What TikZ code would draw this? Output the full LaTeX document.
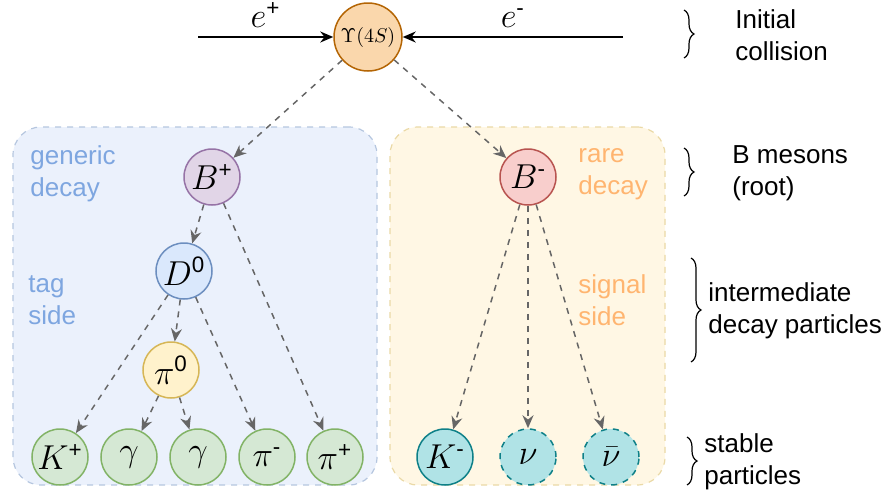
\documentclass[tikz,border=0pt]{standalone}
\usepackage{amsmath}
\usepackage{fontspec}
\setsansfont{Liberation Sans}
\usetikzlibrary{arrows.meta,decorations.pathreplacing}

\definecolor{upsfill}{HTML}{FAD7AC}
\definecolor{upsdraw}{HTML}{B46504}
\definecolor{bplusfill}{HTML}{E1D5E7}
\definecolor{bplusdraw}{HTML}{9673A6}
\definecolor{bminusfill}{HTML}{F8CECC}
\definecolor{bminusdraw}{HTML}{B85450}
\definecolor{dfill}{HTML}{DAE8FC}
\definecolor{ddraw}{HTML}{6C8EBF}
\definecolor{pifill}{HTML}{FFF2CC}
\definecolor{pidraw}{HTML}{D6B656}
\definecolor{greenfill}{HTML}{D5E8D4}
\definecolor{greendraw}{HTML}{82B366}
\definecolor{cyanfill}{HTML}{B0E3E6}
\definecolor{cyandraw}{HTML}{0E8088}
\definecolor{tagbg}{HTML}{EBF1FC}
\definecolor{tagline}{HTML}{B5C6DF}
\definecolor{sigbg}{HTML}{FFF7E4}
\definecolor{sigline}{HTML}{EAD9A6}
\definecolor{bluelabel}{HTML}{7EA6E0}
\definecolor{orangelabel}{HTML}{FFB570}
\definecolor{arrowgray}{HTML}{666666}

\newcommand{\ssup}[1]{^{\textsf{#1}}}

\begin{document}
\begin{tikzpicture}[x=0.5pt, y=-0.5pt,
    particle/.style={circle, draw, line width=0.75pt, minimum size=28pt, inner sep=0pt, font=\fontsize{16}{19}\selectfont},
    stable/.style={particle, fill=greenfill, draw=greendraw},
    invisible/.style={particle, fill=cyanfill, draw=cyandraw, dashed},
    decay/.style={-{Stealth[length=6.5pt, width=5.5pt]}, dashed, draw=arrowgray, line width=0.75pt},
    beam/.style={-{Stealth[length=6.5pt, width=5.5pt]}, line width=0.75pt},
    groupbox/.style={rectangle, rounded corners=14pt, dashed, line width=0.6pt},
    sidelabel/.style={align=left, anchor=west, inner sep=0pt, font=\sffamily\fontsize{13}{16}\selectfont},
    rowbrace/.style={decorate, decoration={brace, amplitude=5pt}, line width=0.6pt}
  ]
  \useasboundingbox (0,0) rectangle (885,493);

  % fonds des deux cotes
  \node[groupbox, fill=tagbg, draw=tagline, minimum width=182pt, minimum height=179pt] (tagbox) at (195,306) {};
  \node[groupbox, fill=sigbg, draw=sigline, minimum width=137.5pt, minimum height=179pt] (sigbox) at (527.5,306) {};

  \node[sidelabel, text=bluelabel] (generic) at (30,174) {generic\\decay};
  \node[sidelabel, text=bluelabel] (tagside) at (28,300) {tag\\side};
  \node[sidelabel, text=orangelabel] (rare) at (578,174) {rare\\decay};
  \node[sidelabel, text=orangelabel] (sigside) at (578,300) {signal\\side};

  % collision initiale
  \node[particle, fill=upsfill, draw=upsdraw, minimum size=34pt, font=\fontsize{10}{12}\selectfont] (ups) at (368,37) {$\Upsilon(4S)$};
  \coordinate (eplus) at (198,37);
  \coordinate (eminus) at (623,37);
  \draw[beam] (eplus) -- (ups) node[midway, above=1pt, font=\fontsize{16}{19}\selectfont] (eplabel) {$e\ssup{+}$};
  \draw[beam] (eminus) -- (ups) node[midway, above=1pt, font=\fontsize{16}{19}\selectfont] (emlabel) {$e\ssup{-}$};

  \node[particle, fill=bplusfill, draw=bplusdraw] (bp) at (212,177) {$B\ssup{+}$};
  \node[particle, fill=bminusfill, draw=bminusdraw] (bm) at (528,177) {$B\ssup{-}$};
  \node[particle, fill=dfill, draw=ddraw] (dz) at (184,271) {$D\ssup{0}$};
  \node[particle, fill=pifill, draw=pidraw] (piz) at (171,370) {$\pi\ssup{0}$};

  \node[stable] (kp) at (60,457) {$K\ssup{+}$};
  \node[stable] (gaa) at (129,457) {$\gamma$};
  \node[stable] (gab) at (198,457) {$\gamma$};
  \node[stable] (pim) at (267,457) {$\pi\ssup{-}$};
  \node[stable] (pip) at (335,457) {$\pi\ssup{+}$};
  \node[particle, fill=cyanfill, draw=cyandraw] (km) at (445,457) {$K\ssup{-}$};
  \node[invisible] (nu) at (528,457) {$\nu$};
  \node[invisible] (nubar) at (611,457) {$\bar\nu$};

  \draw[decay] (ups) -- (bp);
  \draw[decay] (ups) -- (bm);
  \draw[decay] (bp) -- (dz);
  \draw[decay] (bp) -- (pip);
  \draw[decay] (dz) -- (kp);
  \draw[decay] (dz) -- (piz);
  \draw[decay] (dz) -- (pim);
  \draw[decay] (piz) -- (gaa);
  \draw[decay] (piz) -- (gab);
  \draw[decay] (bm) -- (km);
  \draw[decay] (bm) -- (nu);
  \draw[decay] (bm) -- (nubar);

  % accolades a droite
  \draw[rowbrace] (684,10) -- (684,58);
  \draw[rowbrace] (684,148) -- (684,196);
  \draw[rowbrace] (691,258) -- (691,362);
  \draw[rowbrace] (687,437) -- (687,485);
  \node[sidelabel] (collision) at (735,35) {Initial\\collision};
  \node[sidelabel] (mesons) at (732,173) {B mesons\\(root)};
  \node[sidelabel] (intermediate) at (708,311) {intermediate\\decay particles};
  \node[sidelabel] (stablelabel) at (704,462) {stable\\particles};
\end{tikzpicture}
\end{document}
